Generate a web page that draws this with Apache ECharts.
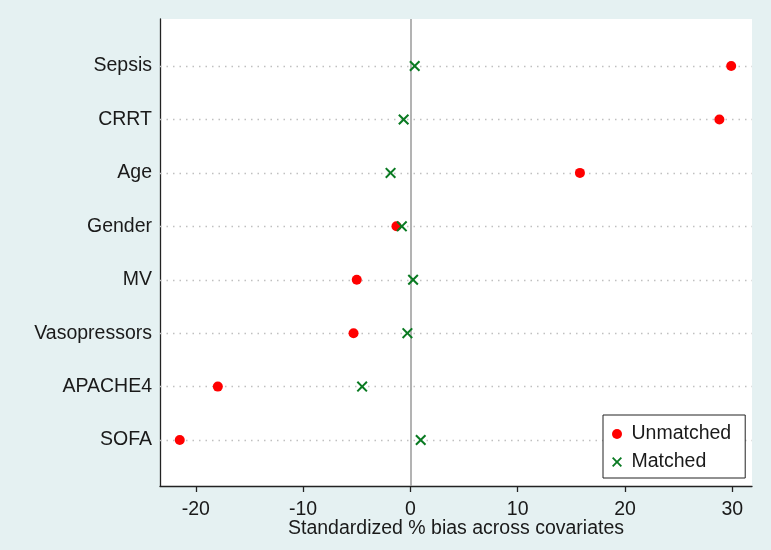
<!DOCTYPE html>
<html>
<head>
<meta charset="utf-8">
<script src="https://cdn.jsdelivr.net/npm/echarts@6/dist/echarts.min.js"></script>
<style>
html,body{margin:0;padding:0;background:#e5f1f2;}
#chart{width:771px;height:550px;}
</style>
</head>
<body>
<div id="chart"></div>
<script>
// Covariates listed bottom to top (SOFA lowest)
var covariates = ['SOFA', 'APACHE4', 'Vasopressors', 'MV', 'Gender', 'Age', 'CRRT', 'Sepsis'];
var unmatched = [-21.5, -17.95, -5.3, -5.0, -1.3, 15.8, 28.8, 29.9];
var matched   = [0.96, -4.5, -0.28, 0.25, -0.8, -1.85, -0.63, 0.4];
var xTicks = [-20, -10, 0, 10, 20, 30];
var seriesNames = ['Unmatched', 'Matched'];
var xTitle = 'Standardized % bias across covariates';

var FONT = '"Liberation Sans", Arial, sans-serif';
var RED = '#ff0000';
var GREEN = '#0a7a22';
var CROSS = 'path://M0,1.3L1.3,0L5,3.7L8.7,0L10,1.3L6.3,5L10,8.7L8.7,10L5,6.3L1.3,10L0,8.7L3.7,5Z';

function pts(vals) {
  return vals.map(function (v, i) { return [v, i + 1]; });
}
var yPositions = covariates.map(function (c, i) { return i + 1; });

var chart = echarts.init(document.getElementById('chart'), null, {renderer: 'canvas'});
chart.setOption({
  backgroundColor: '#e5f1f2',
  animation: false,
  textStyle: {fontFamily: FONT},
  grid: {left: 160, right: 19, top: 19, bottom: 64, show: true, backgroundColor: '#ffffff', borderWidth: 0},
  xAxis: {
    type: 'value',
    min: -23.34,
    max: 31.84,
    name: xTitle,
    nameLocation: 'middle',
    nameGap: 33,
    nameMoveOverlap: false,
    nameTextStyle: {fontSize: 19.5, color: '#1a1a1a', fontFamily: FONT},
    axisLine: {show: true, onZero: false, lineStyle: {color: '#222', width: 1.3}},
    axisTick: {show: true, length: 6, customValues: xTicks, lineStyle: {color: '#222', width: 1.3}},
    axisLabel: {show: true, margin: 14, customValues: xTicks, fontSize: 19.5, color: '#1a1a1a', fontFamily: FONT},
    splitLine: {show: false}
  },
  yAxis: {
    type: 'value',
    min: 0.14,
    max: 8.88,
    axisLine: {show: true, onZero: false, lineStyle: {color: '#222', width: 1.3}},
    axisTick: {show: false},
    axisLabel: {
      show: true, margin: 8, customValues: yPositions, fontSize: 19.5, color: '#1a1a1a', fontFamily: FONT,
      formatter: function (v) { return covariates[Math.round(v) - 1] || ''; }
    },
    splitLine: {show: false}
  },
  legend: {
    orient: 'vertical',
    left: 603,
    top: 415,
    data: seriesNames,
    backgroundColor: '#ffffff',
    borderColor: '#222',
    borderWidth: 1,
    borderRadius: 0,
    padding: [9, 14, 6, 9],
    itemGap: 8,
    itemWidth: 19,
    itemHeight: 10,
    textStyle: {fontSize: 19.5, color: '#1a1a1a', fontFamily: FONT, lineHeight: 18}
  },
  series: [
    {
      name: seriesNames[0],
      type: 'scatter',
      symbol: 'circle',
      symbolSize: 10,
      itemStyle: {color: RED, opacity: 1},
      data: pts(unmatched),
      z: 3,
      markLine: {
        silent: true,
        symbol: ['none', 'none'],
        label: {show: false},
        lineStyle: {type: [1.5, 5], color: '#c0c0c0', width: 1.3},
        data: yPositions.map(function (p) { return {yAxis: p}; }),
        z: 1
      }
    },
    {
      name: seriesNames[1],
      type: 'scatter',
      symbol: CROSS,
      symbolSize: 11,
      itemStyle: {color: GREEN, opacity: 1},
      data: pts(matched),
      z: 4,
      markLine: {
        silent: true,
        symbol: ['none', 'none'],
        label: {show: false},
        lineStyle: {type: 'solid', color: '#a0a0a0', width: 1.6},
        data: [{xAxis: 0}],
        z: 2
      }
    }
  ]
});
</script>
</body>
</html>
